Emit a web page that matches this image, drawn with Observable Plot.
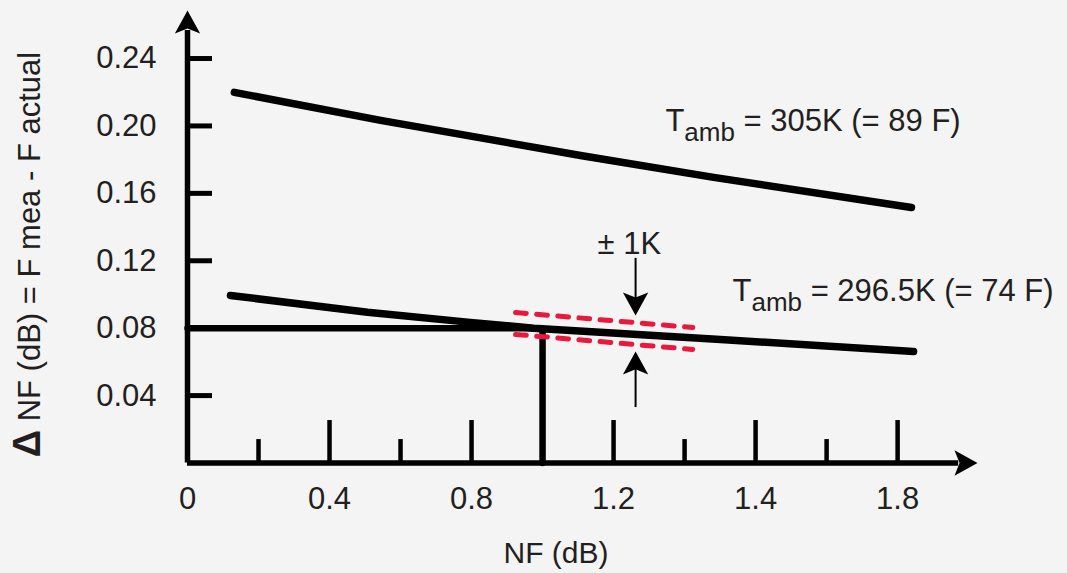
<!DOCTYPE html>
<html>
<head>
<meta charset="utf-8">
<script src="https://cdn.jsdelivr.net/npm/d3@7"></script>
<script src="https://cdn.jsdelivr.net/npm/@observablehq/plot@0.6"></script>
<style>
  html, body { margin: 0; padding: 0; background: #f4f4f4; }
  #chart svg { display: block; }
</style>
</head>
<body>
<div id="chart"></div>
<script>
// ---- data ----
const nf305   = [0.132, 0.544, 1.107, 1.482, 2.039];
const dnf305  = [0.2199, 0.2033, 0.1825, 0.1695, 0.1516];
const nf2965  = [0.121, 0.507, 0.789, 0.975, 1.501, 2.045];
const dnf2965 = [0.0994, 0.0895, 0.0836, 0.0800, 0.0733, 0.0662];
// ±1K band around the 296.5K curve
const bandX     = [0.924, 1.423];
const bandUpper = [0.0893, 0.0804];
const bandLower = [0.0763, 0.0674];
// read-out at NF = 1.0 dB
const readNF = 1.0, readDNF = 0.08;
// axes
const xTickPos    = [0, 0.4, 0.8, 1.2, 1.6, 2.0];
const xTickLabels = ["0", "0.4", "0.8", "1.2", "1.4", "1.8"];
const xMajor = [0.4, 0.8, 1.2, 1.6, 2.0];
const xMinor = [0.2, 0.6, 1.0, 1.4, 1.8];
const yTicks = [0.04, 0.08, 0.12, 0.16, 0.20, 0.24];

const upper = nf305.map((x, i) => ({x, y: dnf305[i]}));
const lower = nf2965.map((x, i) => ({x, y: dnf2965[i]}));
const bandU = bandX.map((x, i) => ({x, y: bandUpper[i]}));
const bandL = bandX.map((x, i) => ({x, y: bandLower[i]}));
const readout = [{x: 0, y: readDNF}, {x: readNF, y: readDNF}, {x: readNF, y: 0}];

// stealth arrowhead symbol: tip at origin, pointing up
const stealth = {
  draw(ctx, size) {
    const r = Math.sqrt(size / Math.PI);
    ctx.moveTo(0, 0);
    ctx.lineTo(0.55 * r, r);
    ctx.lineTo(0, 0.78 * r);
    ctx.lineTo(-0.55 * r, r);
    ctx.closePath();
  }
};

const arrowHeads = [
  {x: 0, y: 0.2685, rot: 0},      // y axis
  {x: 2.225, y: 0, rot: 90},      // x axis
  {x: 1.262, y: 0.0875, rot: 180},// ±1K down
  {x: 1.262, y: 0.0662, rot: 0}   // ±1K up
];

const ink = "#231f20";

const chart = Plot.plot({
  width: 1067,
  height: 573,
  marginLeft: 187,
  marginRight: 90,
  marginTop: 10,
  marginBottom: 110.5,
  x: {domain: [0, 2.225]},
  y: {domain: [0, 0.2685]},
  style: {background: "#f4f4f4", fontFamily: "'Liberation Sans', Arial, Helvetica, sans-serif", fontSize: "31px", color: ink},
  marks: [
    // axis lines
    Plot.ruleY([0], {x1: 0, x2: 2.172, stroke: "black", strokeWidth: 5.5}),
    Plot.ruleX([0], {y1: 0, y2: 0.2567, stroke: "black", strokeWidth: 5.5}),
    // x ticks (drawn upward)
    Plot.ruleX(xMajor, {y1: 0, y2: 0.0252, stroke: "black", strokeWidth: 4.5}),
    Plot.ruleX(xMinor, {y1: 0, y2: 0.0139, stroke: "black", strokeWidth: 4.5}),
    // y ticks (drawn rightward)
    Plot.ruleY(yTicks, {x1: 0, x2: 0.0704, stroke: "black", strokeWidth: 5}),
    Plot.axisX({ticks: xTickPos, tickFormat: d => xTickLabels[xTickPos.indexOf(d)], tickSize: 0, tickPadding: 24, label: null, fill: ink}),
    Plot.axisY({ticks: yTicks, tickFormat: d3.format(".2f"), tickSize: 0, tickPadding: 31, label: null, fill: ink}),
    // curves
    Plot.line(upper, {x: "x", y: "y", stroke: "black", strokeWidth: 7.5, strokeLinecap: "round"}),
    Plot.line(lower, {x: "x", y: "y", stroke: "black", strokeWidth: 7.5, strokeLinecap: "round"}),
    // read-out lines
    Plot.line(readout, {x: "x", y: "y", stroke: "black", strokeWidth: 6.5, strokeLinejoin: "miter"}),
    // ±1K band
    Plot.line(bandU, {x: "x", y: "y", stroke: "#e8193c", strokeWidth: 5, strokeDasharray: "10.7,10.5"}),
    Plot.line(bandL, {x: "x", y: "y", stroke: "#e8193c", strokeWidth: 5, strokeDasharray: "10.7,10.5"}),
    // arrow shafts
    Plot.ruleX([1.262], {y1: 0.1214, y2: 0.095, stroke: "black", strokeWidth: 2}),
    Plot.ruleX([1.262], {y1: 0.0329, y2: 0.058, stroke: "black", strokeWidth: 2}),
    // arrowheads
    Plot.dot(arrowHeads, {x: "x", y: "y", symbol: stealth, r: 23, rotate: "rot", fill: "black", stroke: null}),
    // annotations
    Plot.text([{x: 1.155, y: 0.1300}], {x: "x", y: "y", text: () => "± 1K", textAnchor: "start", fontSize: 31, fill: ink}),
    Plot.text([{x: 1.346, y: 0.2030}], {x: "x", y: "y", text: () => "T|amb| = 305K (= 89 F)", textAnchor: "start", fontSize: 31, fill: ink}),
    Plot.text([{x: 1.535, y: 0.1021}], {x: "x", y: "y", text: () => "T|amb| = 296.5K (= 74 F)", textAnchor: "start", fontSize: 31, fill: ink}),
    // axis titles
    Plot.text([{x: 1.038, y: -0.0539}], {x: "x", y: "y", text: () => "NF (dB)", textAnchor: "middle", fontSize: 30, fill: ink}),
    Plot.text([{x: -0.442, y: 0.1237}], {x: "x", y: "y", text: () => "Δ NF (dB) = F mea - F actual", textAnchor: "middle", rotate: -90, fontSize: 31, fill: ink})
  ]
});

// typographic touches: subscripts and the bold delta
const NS = "http://www.w3.org/2000/svg";
chart.querySelectorAll("text").forEach(t => {
  const s = t.textContent;
  if (s.includes("|amb|")) {
    const [a, b, c] = s.split("|");
    t.textContent = "";
    t.appendChild(document.createTextNode(a));
    const sub = document.createElementNS(NS, "tspan");
    sub.setAttribute("font-size", "26");
    sub.setAttribute("dy", "10");
    sub.textContent = b;
    t.appendChild(sub);
    const rest = document.createElementNS(NS, "tspan");
    rest.setAttribute("font-size", "31");
    rest.setAttribute("dy", "-10");
    rest.textContent = c;
    t.appendChild(rest);
  } else if (s.startsWith("Δ")) {
    t.textContent = "";
    const d = document.createElementNS(NS, "tspan");
    d.setAttribute("font-weight", "bold");
    d.setAttribute("font-size", "38");
    d.textContent = "Δ";
    t.appendChild(d);
    t.appendChild(document.createTextNode(s.slice(1)));
  }
});

document.getElementById("chart").appendChild(chart);
</script>
</body>
</html>
